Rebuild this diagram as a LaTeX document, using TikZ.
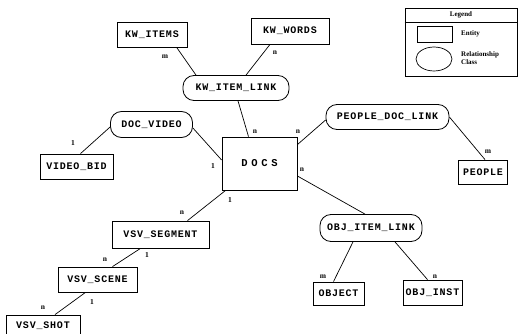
\documentclass[tikz,border=0pt]{standalone}
\usepackage{fontspec}
\usetikzlibrary{shapes.geometric}
\setmainfont{Liberation Serif}
\newfontfamily\boxfont{Liberation Mono}[LetterSpace=8]
\newfontfamily\docsfont{Liberation Mono}[LetterSpace=35]
\begin{document}
\begin{tikzpicture}[x=1pt,y=-1pt,
  ent/.style={draw, line width=0.8pt, inner sep=0pt, font=\boxfont\bfseries\fontsize{10}{12}\selectfont},
  rel/.style={ent, rounded corners=11pt},
  lbl/.style={inner sep=0pt, font=\bfseries\fontsize{7.5}{8}\selectfont},
  conn/.style={line width=0.7pt},
  leg/.style={inner sep=0pt, font=\bfseries\fontsize{7}{8}\selectfont}]
\useasboundingbox (0,0) rectangle (522,334);

% entities and relationship classes
\node[ent, minimum width=70pt, minimum height=25pt] (kwitems) at (152,35) {KW\_ITEMS};
\node[ent, minimum width=78pt, minimum height=26pt] (kwwords) at (290,31) {KW\_WORDS};
\node[rel, minimum width=106pt, minimum height=25pt] (kwlink) at (236,88) {KW\_ITEM\_LINK};
\node[rel, minimum width=82pt, minimum height=26pt] (dv) at (151.5,124.5) {DOC\_VIDEO};
\node[ent, minimum width=73pt, minimum height=25pt] (vb) at (76.5,166.5) {VIDEO\_BID};
\node[ent, minimum width=75pt, minimum height=53pt, font=\docsfont\bfseries\fontsize{10.5}{12}\selectfont] (docs) at (259.5,163.5) {DOCS};
\node[rel, minimum width=123pt, minimum height=25pt] (pdl) at (387.5,117) {PEOPLE\_DOC\_LINK};
\node[ent, minimum width=49pt, minimum height=24pt] (people) at (483,172) {PEOPLE};
\node[rel, minimum width=102pt, minimum height=27pt] (oil) at (371,228) {OBJ\_ITEM\_LINK};
\node[ent, minimum width=51pt, minimum height=23pt] (obj) at (338.5,293.5) {OBJECT};
\node[ent, minimum width=59pt, minimum height=25pt] (oi) at (432.5,292.5) {OBJ\_INST};
\node[ent, minimum width=97pt, minimum height=27pt] (seg) at (160.5,234.5) {VSV\_SEGMENT};
\node[ent, minimum width=79pt, minimum height=25pt] (scene) at (97.5,279.5) {VSV\_SCENE};
\node[ent, minimum width=74pt, minimum height=22pt] (shot) at (43,326) {VSV\_SHOT};

% connectors
\draw[conn] ([xshift=25pt]kwitems.south) -- ([xshift=-40pt]kwlink.north);
\draw[conn] ([xshift=-20pt]kwwords.south) -- ([xshift=10pt]kwlink.north);
\draw[conn] ([xshift=2pt]kwlink.south) -- ([xshift=-11pt]docs.north);
\draw[conn] ([yshift=-3.5pt]dv.east) -- ([yshift=3.5pt]docs.west);
\draw[conn] ([yshift=-2.5pt]dv.west) -- ([xshift=4pt]vb.north);
\draw[conn] ([yshift=-8pt]docs.north east) -- ([yshift=-3pt]pdl.west);
\draw[conn] (pdl.east) -- ([xshift=2pt]people.north);
\draw[conn] ([yshift=-12.5pt]docs.east) -- ([xshift=-6pt]oil.north);
\draw[conn] ([xshift=-18pt]oil.south) -- ([xshift=-5pt]obj.north);
\draw[conn] ([xshift=24pt]oil.south) -- ([xshift=-5pt]oi.north);
\draw[conn] ([xshift=4pt]docs.south west) -- ([xshift=27pt]seg.north);
\draw[conn] ([xshift=-20pt]seg.south) -- ([xshift=15pt]scene.north);
\draw[conn] ([xshift=-12pt]scene.south) -- ([xshift=12pt]shot.north);

% cardinality labels
\node[lbl] (c1) at (165,57) {m};
\node[lbl] (c2) at (275,53) {n};
\node[lbl] (c3) at (255,132) {n};
\node[lbl] (c4) at (213,166) {1};
\node[lbl] (c5) at (73,143) {1};
\node[lbl] (c6) at (298,132) {n};
\node[lbl] (c7) at (488,152) {m};
\node[lbl] (c8) at (302,170) {n};
\node[lbl] (c9) at (230,200) {1};
\node[lbl] (c10) at (182,213) {n};
\node[lbl] (c11) at (147,255) {1};
\node[lbl] (c12) at (105,260) {n};
\node[lbl] (c13) at (92,302) {1};
\node[lbl] (c14) at (43,308) {n};
\node[lbl] (c15) at (323,277) {m};
\node[lbl] (c16) at (435,277) {n};

% legend
\node[draw, line width=0.8pt, minimum width=112pt, minimum height=68pt, inner sep=0pt] (legbox) at (461,42) {};
\node[leg] (legtitle) at (461,15) {Legend};
\draw[line width=0.6pt] (legbox.west |- 0,22) coordinate (sepl) -- (legbox.east |- 0,22) coordinate (sepr);
\node[draw, line width=0.7pt, minimum width=35pt, minimum height=16pt, inner sep=0pt] (legent) at (434.5,34) {};
\node[leg, anchor=west] (legenttxt) at (461,34) {Entity};
\node[draw, ellipse, line width=0.7pt, minimum width=36pt, minimum height=24pt, inner sep=0pt] (legrel) at (434,59) {};
\node[leg, anchor=west, align=left] (legreltxt) at (461,58) {Relationship\\Class};
\end{tikzpicture}
\end{document}
